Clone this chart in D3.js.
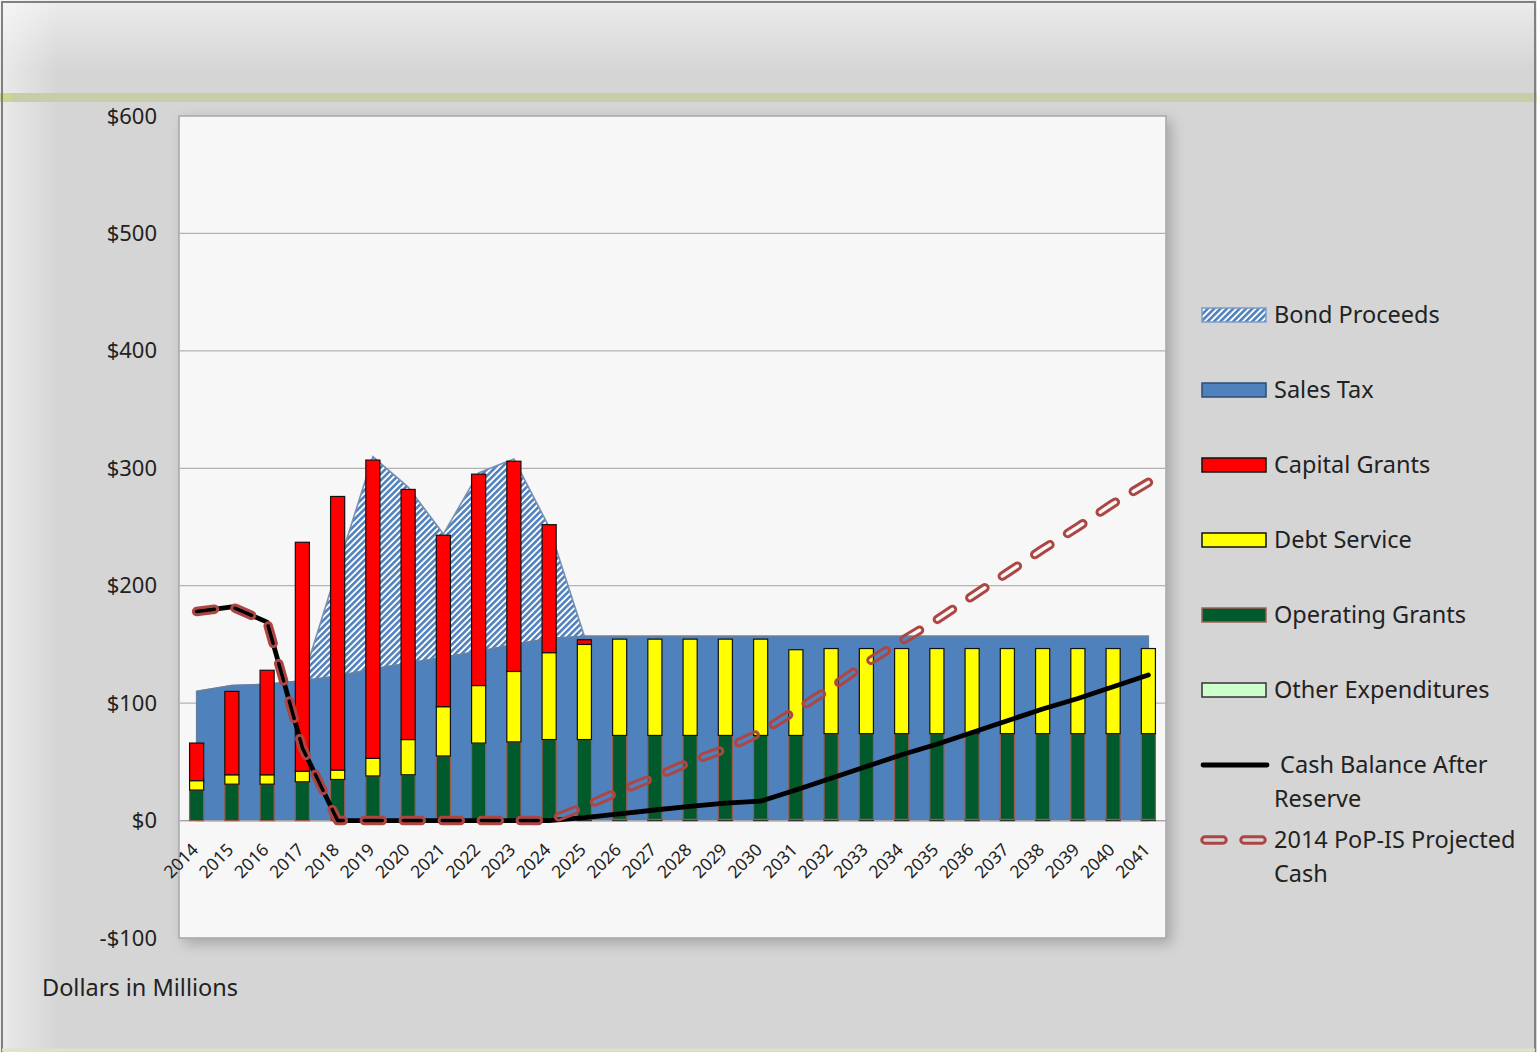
<!DOCTYPE html>
<html>
<head>
<meta charset="utf-8">
<script src="https://cdn.jsdelivr.net/npm/d3@7/dist/d3.min.js"></script>
<style>
  body { margin: 0; background: #d5d5d5; }
  svg { display: block; }
  text { font-family: "Noto Sans", "Open Sans", sans-serif; fill: #222; }
</style>
</head>
<body>
<svg id="chart" width="1537" height="1052"></svg>
<script>
// chart values (dollars in millions)
var years = ["2014","2015","2016","2017","2018","2019","2020","2021","2022","2023","2024","2025","2026","2027",
             "2028","2029","2030","2031","2032","2033","2034","2035","2036","2037","2038","2039","2040","2041"];

var salesTax        = [110,115,116,119,123,129,134,139,144,150,155,157,157,157,157,157,157,157,157,157,157,157,157,157,157,157,157,157];
var bondProceeds    = [0,0,0,0,92,181,150,105,152,158,95,0,0,0,0,0,0,0,0,0,0,0,0,0,0,0,0,0];

var otherExp        = [0,0,0,0,0,0,0,0,0,0,0,1,1,1,1,1,1,1,1,1,1,1,1,1,1,1,1,1];
var operatingGrants = [26,31,31,33,35,38,39,55,66,67,69,68,71.5,71.5,71.5,71.5,71.5,71.5,73,73,73,73,73,73,73,73,73,73];
var debtService     = [8,8,8,9,8,15,30,42,49,60,74,81,82,82,82,82,82,73,72.5,72.5,72.5,72.5,72.5,72.5,72.5,72.5,72.5,72.5];
var capitalGrants   = [32,71,89,195,233,254,213,146,180,179,109,4,0,0,0,0,0,0,0,0,0,0,0,0,0,0,0,0];

var cashBalance     = [178,182,169,62,0,0,0,0,0,0,0,2.5,5.7,9,12,14.8,16.5,26,36,46,56,65,75,85,95,104,114,124];
var popCash         = [178,182,169,62,0,0,0,0,0,0,0,12,25,37,50,61,75,94,113,134,153,171,191,211,231,250,270,288];

var yTicks = [-100, 0, 100, 200, 300, 400, 500, 600];

var legendItems = [
  {name: "Bond Proceeds", kind: "hatch"},
  {name: "Sales Tax", kind: "box", fill: "#4f81bd", stroke: "#2b4c74"},
  {name: "Capital Grants", kind: "box", fill: "#ff0000", stroke: "#111"},
  {name: "Debt Service", kind: "box", fill: "#ffff00", stroke: "#111"},
  {name: "Operating Grants", kind: "box", fill: "#005a2b", stroke: "#a0605a"},
  {name: "Other Expenditures", kind: "box", fill: "#ccffcc", stroke: "#333"},
  {name: " Cash Balance After", name2: "Reserve", kind: "line"},
  {name: "2014 PoP-IS Projected", name2: "Cash", kind: "dash"}
];

var W = 1537, H = 1052;
var plot = {left: 179, right: 1166, top: 116, bottom: 938};

var svg = d3.select("#chart");
var defs = svg.append("defs");

// background bits
var gTop = defs.append("linearGradient").attr("id", "gTop").attr("x1", 0).attr("y1", 0).attr("x2", 0).attr("y2", 1);
gTop.append("stop").attr("offset", 0).attr("stop-color", "#fff").attr("stop-opacity", 0.55);
gTop.append("stop").attr("offset", 1).attr("stop-color", "#fff").attr("stop-opacity", 0);
var gLeft = defs.append("linearGradient").attr("id", "gLeft").attr("x1", 0).attr("y1", 0).attr("x2", 1).attr("y2", 0);
gLeft.append("stop").attr("offset", 0).attr("stop-color", "#fff").attr("stop-opacity", 0.5);
gLeft.append("stop").attr("offset", 1).attr("stop-color", "#fff").attr("stop-opacity", 0);

var shadow = defs.append("filter").attr("id", "shadow").attr("x", "-5%").attr("y", "-5%").attr("width", "115%").attr("height", "115%");
shadow.append("feDropShadow").attr("dx", 5).attr("dy", 5).attr("stdDeviation", 7)
  .attr("flood-color", "#000").attr("flood-opacity", 0.22);

var hatch = defs.append("pattern").attr("id", "hatch").attr("patternUnits", "userSpaceOnUse")
  .attr("width", 4.5).attr("height", 4.5).attr("patternTransform", "rotate(45)");
hatch.append("rect").attr("width", 4.5).attr("height", 4.5).attr("fill", "#fff");
hatch.append("rect").attr("width", 2.6).attr("height", 4.5).attr("fill", "#4f81bd");

svg.append("rect").attr("width", W).attr("height", H).attr("fill", "#d5d5d5");
svg.append("rect").attr("width", W).attr("height", 70).attr("fill", "url(#gTop)");
svg.append("rect").attr("width", 60).attr("height", H).attr("fill", "url(#gLeft)");
svg.append("rect").attr("x", 0).attr("y", 93).attr("width", W).attr("height", 9).attr("fill", "#c7cda6");
svg.append("rect").attr("x", 0).attr("y", 93).attr("width", 12).attr("height", 9).attr("fill", "#cbd88a");
svg.append("path").attr("d", "M2,1052V2H1535V1052").attr("fill", "none").attr("stroke", "#808080").attr("stroke-width", 2);
svg.append("line").attr("x1", 2).attr("x2", 1535).attr("y1", 1050).attr("y2", 1050).attr("stroke", "#dfe2c4").attr("stroke-width", 3);

// plot area
svg.append("rect")
  .attr("x", plot.left).attr("y", plot.top)
  .attr("width", plot.right - plot.left).attr("height", plot.bottom - plot.top)
  .attr("fill", "#f7f7f7").attr("stroke", "#a6a6a6").attr("stroke-width", 1.5)
  .attr("filter", "url(#shadow)");

var x = d3.scaleBand().domain(years).range([plot.left, plot.right]).padding(0);
var y = d3.scaleLinear().domain([-100, 600]).range([plot.bottom, plot.top]);
var xc = function(d) { return x(d) + x.bandwidth() / 2; };
var barW = x.bandwidth() * 0.4;

// gridlines
svg.append("g").selectAll("line")
  .data(yTicks.filter(function(v) { return v > -100 && v < 600; }))
  .enter().append("line")
  .attr("x1", plot.left).attr("x2", plot.right)
  .attr("y1", function(d) { return y(d); }).attr("y2", function(d) { return y(d); })
  .attr("stroke", "#b3b3b3").attr("stroke-width", 1.3);

// y axis labels
var yAxis = d3.axisLeft(y).tickValues(yTicks).tickSize(0).tickPadding(0)
  .tickFormat(function(d) { return d < 0 ? "-$" + (-d) : "$" + d; });
var ya = svg.append("g").attr("transform", "translate(157,0)").call(yAxis);
ya.select(".domain").remove();
ya.selectAll("text").style("font-family", "'Noto Sans', sans-serif").style("font-size", "22px").attr("fill", "#222");

// table rows for stacks
var rows = years.map(function(yr, i) {
  return {year: yr, salesTax: salesTax[i], bondProceeds: bondProceeds[i],
          other: otherExp[i], operating: operatingGrants[i], debt: debtService[i], capital: capitalGrants[i]};
});

// areas: sales tax + bond proceeds
var areaStack = d3.stack().keys(["salesTax", "bondProceeds"])(rows);
var area = d3.area()
  .x(function(d) { return xc(d.data.year); })
  .y0(function(d) { return y(d[0]); })
  .y1(function(d) { return y(d[1]); });
svg.append("path").datum(areaStack[1]).attr("d", area)
  .attr("fill", "url(#hatch)").attr("stroke", "#7890b2").attr("stroke-width", 1.6);
svg.append("path").datum(areaStack[0]).attr("d", area)
  .attr("fill", "#4f81bd").attr("stroke", "#66809f").attr("stroke-width", 1.5);

// zero line
svg.append("line").attr("x1", plot.left).attr("x2", plot.right)
  .attr("y1", y(0)).attr("y2", y(0)).attr("stroke", "#a6a6a6").attr("stroke-width", 1.3);

// stacked bars
var barKeys = ["other", "operating", "debt", "capital"];
var barFill = {other: "#ccffcc", operating: "#005a2b", debt: "#ffff00", capital: "#ff0000"};
var barStroke = {other: "#333", operating: "#9a5a50", debt: "#111", capital: "#111"};
var barStack = d3.stack().keys(barKeys)(rows);
svg.append("g").selectAll("g")
  .data(barStack).enter().append("g")
  .attr("fill", function(s) { return barFill[s.key]; })
  .attr("stroke", function(s) { return barStroke[s.key]; })
  .attr("stroke-width", 1.2)
  .selectAll("rect")
  .data(function(s) { return s.filter(function(d) { return d[1] - d[0] > 0; }); })
  .enter().append("rect")
  .attr("x", function(d) { return xc(d.data.year) - barW / 2; })
  .attr("width", barW)
  .attr("y", function(d) { return y(d[1]); })
  .attr("height", function(d) { return y(d[0]) - y(d[1]); });

// lines
var line = d3.line()
  .x(function(d, i) { return xc(years[i]); })
  .y(function(d) { return y(d); });

svg.append("path").datum(cashBalance).attr("d", line)
  .attr("fill", "none").attr("stroke", "#000").attr("stroke-width", 4.8)
  .attr("stroke-linejoin", "round").attr("stroke-linecap", "round");

// hollow capsule dashes, made with a mask
var dashPaths = [line(popCash), "M1205,840L1266,840"];
var mask = defs.append("mask").attr("id", "dashMask").attr("maskUnits", "userSpaceOnUse")
  .attr("x", 0).attr("y", 0).attr("width", W).attr("height", H);
dashPaths.forEach(function(p) {
  mask.append("path").attr("d", p).attr("fill", "none").attr("stroke", "#fff").attr("stroke-width", 9.5)
    .attr("stroke-dasharray", "18,21").attr("stroke-linecap", "round").attr("stroke-linejoin", "round");
  mask.append("path").attr("d", p).attr("fill", "none").attr("stroke", "#000").attr("stroke-width", 3.5)
    .attr("stroke-dasharray", "18,21").attr("stroke-linecap", "round").attr("stroke-linejoin", "round");
});
svg.append("rect").attr("width", W).attr("height", H).attr("fill", "#ad4643")
  .attr("mask", "url(#dashMask)");

// x axis labels
var xAxis = d3.axisBottom(x).tickSize(0);
var xa = svg.append("g").attr("transform", "translate(0," + y(0) + ")").call(xAxis);
xa.select(".domain").remove();
xa.selectAll("text")
  .attr("x", null).attr("y", null).attr("dy", "0.35em")
  .attr("text-anchor", "end")
  .attr("transform", "translate(-1.5,26) rotate(-45)")
  .style("font-family", "'Noto Sans', sans-serif").style("font-size", "17.5px").attr("fill", "#222");

// axis title
svg.append("text").attr("x", 42).attr("y", 996).style("font-size", "23.5px").text("Dollars in Millions");

// legend
var lg = svg.append("g");
var rowY = [315, 390, 465, 540, 615, 690, 765, 840];
legendItems.forEach(function(it, i) {
  var cy = rowY[i];
  if (it.kind === "hatch") {
    lg.append("rect").attr("x", 1202).attr("y", cy - 7).attr("width", 64).attr("height", 14)
      .attr("fill", "url(#hatch)").attr("stroke", "#7f9cc7").attr("stroke-width", 1.5);
  } else if (it.kind === "box") {
    lg.append("rect").attr("x", 1202).attr("y", cy - 7).attr("width", 64).attr("height", 14)
      .attr("fill", it.fill).attr("stroke", it.stroke).attr("stroke-width", 1.5);
  } else if (it.kind === "line") {
    lg.append("line").attr("x1", 1203).attr("x2", 1267).attr("y1", cy).attr("y2", cy)
      .attr("stroke", "#000").attr("stroke-width", 4.8).attr("stroke-linecap", "round");
  }
  lg.append("text").attr("x", 1274).attr("y", cy + 8).style("font-size", "23.5px")
    .attr("xml:space", "preserve").style("white-space", "pre").text(it.name);
  if (it.name2) {
    lg.append("text").attr("x", 1274).attr("y", cy + 42).style("font-size", "23.5px").text(it.name2);
  }
});
</script>
</body>
</html>
